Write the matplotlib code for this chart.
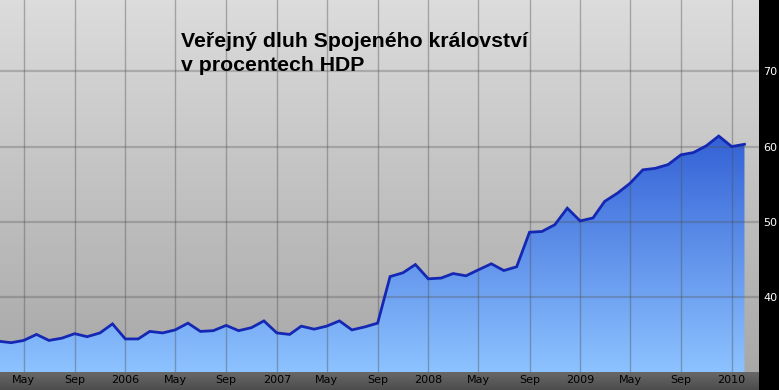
import numpy as np
import pandas as pd
import matplotlib
matplotlib.use('Agg')
import matplotlib.pyplot as plt
import matplotlib.dates as mdates
from matplotlib.colors import LinearSegmentedColormap

# monthly public debt, % of GDP (Mar 2005 - Feb 2010)
months = pd.date_range('2005-03-01', periods=60, freq='MS')
debt = [34.1, 33.9, 34.2, 35.0, 34.2, 34.5, 35.1, 34.7, 35.2, 36.4,
        34.4, 34.4, 35.4, 35.2, 35.6, 36.5, 35.4, 35.5, 36.2, 35.5,
        35.9, 36.8, 35.2, 35.0, 36.1, 35.7, 36.1, 36.8, 35.6, 36.0,
        36.5, 42.7, 43.2, 44.3, 42.4, 42.5, 43.1, 42.8, 43.6, 44.4,
        43.5, 44.0, 48.6, 48.7, 49.6, 51.8, 50.1, 50.5, 52.7, 53.8,
        55.1, 56.9, 57.1, 57.6, 58.9, 59.2, 60.1, 61.4, 60.0, 60.3]
tick_dates = ['2005-05-01', '2005-09-01', '2006-01-01', '2006-05-01', '2006-09-01',
              '2007-01-01', '2007-05-01', '2007-09-01', '2008-01-01', '2008-05-01',
              '2008-09-01', '2009-01-01', '2009-05-01', '2009-09-01', '2010-01-01']
tick_labels = ['May', 'Sep', '2006', 'May', 'Sep', '2007', 'May', 'Sep',
               '2008', 'May', 'Sep', '2009', 'May', 'Sep', '2010']
y_ticks = [40, 50, 60, 70]

W, H = 779, 390
fig = plt.figure(figsize=(W / 100, H / 100), dpi=100)
fig.patch.set_facecolor('black')

# bottom band with the month labels
band = fig.add_axes([0, 0, 759 / W, 18 / H])
band.imshow(np.linspace(0, 1, 50).reshape(-1, 1), aspect='auto', extent=[0, 1, 0, 1],
            cmap=LinearSegmentedColormap.from_list('b', ['#686868', '#4c4c4c']))
band.axis('off')

ax = fig.add_axes([0, 18 / H, 759 / W, 372 / H])
x = mdates.date2num(months)
xlim = (mdates.datestr2num('2005-03-05'), mdates.datestr2num('2010-03-08'))
ylim = (30, 79.5)

# gray background gradient
bg = LinearSegmentedColormap.from_list('bg', ['#dcdcdc', '#a8a8a8'])
ax.imshow(np.linspace(0, 1, 100).reshape(-1, 1), aspect='auto', cmap=bg,
          extent=[xlim[0], xlim[1], ylim[0], ylim[1]], zorder=0)

# blue gradient fill under the line
poly = ax.fill_between(x, debt, ylim[0], color='none', lw=0, zorder=1)
fill_cm = LinearSegmentedColormap.from_list('fc', ['#3462d6', '#8cc2ff'])
im = ax.imshow(np.linspace(0, 1, 100).reshape(-1, 1), aspect='auto', cmap=fill_cm,
               extent=[x[0], x[-1], ylim[0], max(debt)], zorder=1)
im.set_clip_path(poly.get_paths()[0], transform=ax.transData)

ax.plot(x, debt, color='#1428b4', lw=2, zorder=4, solid_joinstyle='miter')

ax.set_xlim(xlim)
ax.set_ylim(ylim)
ax.set_xticks(mdates.datestr2num(tick_dates))
ax.set_xticklabels(tick_labels)
ax.set_yticks(y_ticks)
ax.tick_params(axis='x', length=0, pad=2, labelsize=8, labelcolor='black')
ax.tick_params(axis='y', length=0, pad=3, labelsize=8, labelcolor='white',
               left=False, labelleft=False, right=False, labelright=True)
ax.set_axisbelow(False)
ax.grid(axis='x', color='#505050', alpha=0.4, lw=1)
ax.grid(axis='y', color='#505050', alpha=0.3, lw=1.6)
for s in ax.spines.values():
    s.set_visible(False)

fig.text(181 / W, 1 - 46.7 / H, 'Veřejný dluh Spojeného království', fontsize=15.3,
         fontweight='bold', family='Liberation Sans', va='baseline')
fig.text(181 / W, 1 - 71 / H, 'v procentech HDP', fontsize=15.3,
         fontweight='bold', family='Liberation Sans', va='baseline')

fig.savefig('out.png', dpi=100, facecolor=fig.get_facecolor())
